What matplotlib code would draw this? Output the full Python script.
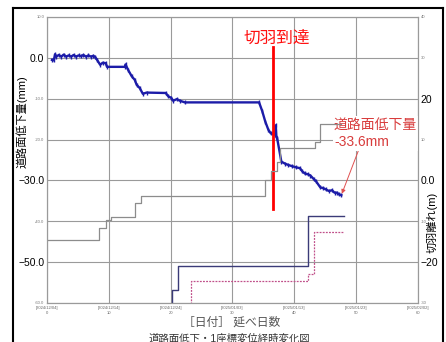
import matplotlib
matplotlib.use("Agg")
import matplotlib.pyplot as plt
from matplotlib.lines import Line2D

plt.rcParams["font.family"] = ["Liberation Sans", "Noto Sans CJK JP", "DejaVu Sans"]

# road surface settlement (mm) against elapsed days
settle_days = [0.8, 1.1, 1.3, 1.5, 1.9, 2.3, 2.7, 3.1, 3.5, 3.9, 4.3, 4.7, 5.1, 5.5, 5.9,
               6.3, 6.7, 7.1, 7.5, 7.8, 8.1, 8.6, 9.0, 9.5, 9.7, 12.6, 12.7, 13.1, 13.7,
               14.2, 14.5, 15.0, 15.5, 16.1, 19.2, 19.6, 20.1, 20.4, 21.0, 21.5, 22.3,
               34.3, 34.8, 35.3, 35.8, 36.2, 36.6, 36.9, 37.0, 37.1, 37.2, 37.9, 38.5,
               39.0, 39.6, 40.3, 40.9, 41.3, 41.7, 42.2, 42.6, 43.1, 43.5, 44.2, 44.7,
               45.1, 45.6, 46.1, 46.5, 46.9, 47.2, 47.6]
settle_mm = [-0.5, -0.6, 0.9, 0.3, 0.7, 0.3, 0.8, 0.3, 0.6, 0.3, 0.7, 0.3, 0.6, 0.4, 0.7,
             0.3, 0.6, 0.3, 0.5, 0.2, -0.5, -1.7, -1.2, -1.3, -2.2, -2.2, -1.6, -2.9, -4.5,
             -5.4, -6.6, -7.4, -8.8, -8.5, -8.6, -9.4, -9.8, -10.5, -10.1, -10.5, -10.9,
             -10.9, -13.0, -15.6, -17.6, -18.5, -18.6, -18.8, -16.5, -19.3, -19.5, -25.4, -25.9,
             -26.2, -26.5, -26.8, -27.0, -27.8, -28.3, -28.5, -28.8, -29.6, -30.2, -31.7, -31.9,
             -32.2, -32.6, -32.4, -33.0, -33.0, -33.4, -33.6]

# distance from the tunnel face (m), right axis
face_days = [0.0, 8.4, 9.5, 10.4, 14.2, 15.2, 35.3, 36.2, 37.2, 37.7, 43.4, 44.2, 47.6]
face_m = [-14.6, -11.7, -9.8, -9.0, -5.6, -3.7, 0.2, 2.2, 4.4, 8.0, 9.5, 13.7, 13.7]

# other displacement records
navy_days = [20.2, 20.2, 21.2, 42.2, 48.1]
navy_mm = [-61.0, -56.8, -51.0, -38.8, -38.8]
pink_days = [23.3, 23.3, 42.2, 43.2, 48.1]
pink_mm = [-61.0, -54.6, -52.9, -42.7, -42.7]

face_arrival_day = 36.6
final_settlement = -33.6

x_ticks = [0, 10, 20, 30, 40, 50, 60]
x_dates = ["2024/12/04", "2024/12/14", "2024/12/24", "2025/01/03",
           "2025/01/13", "2025/01/23", "2025/02/02"]
left_ticks = [10, 0, -10, -20, -30, -40, -50, -60]
left_big = {0: "0.0", -30: "\u221230.0", -50: "\u221250.0"}
right_ticks = [40, 30, 20, 10, 0, -10, -20, -30]
right_big = {20: "20", 0: "0.0", -20: "\u221220"}

W, H = 446, 342
fig = plt.figure(figsize=(W / 100, H / 100), dpi=100)
ax = fig.add_axes([47 / W, 1 - 303 / H, 371 / W, 286 / H])
ax2 = ax.twinx()

ax.set_xlim(0, 60)
ax.set_ylim(-60, 10)
ax2.set_ylim(-30, 40)

ax.grid(True, color="#9a9a9a", lw=0.8)
ax.set_axisbelow(True)
for a in (ax, ax2):
    for s in a.spines.values():
        s.set_color("#9a9a9a")
        s.set_linewidth(0.8)

ax2.plot(face_days, face_m, drawstyle="steps-post", color="#8c8c8c", lw=0.9)
ax.plot(navy_days, navy_mm, drawstyle="steps-post", color="#3b3b78", lw=1.0)
ax.plot(pink_days, pink_mm, drawstyle="steps-post", color="#c0508a", lw=0.9, ls=(0, (1.5, 1)))
ax.plot(settle_days, settle_mm, color="#1c1ca8", lw=1.7, marker="|", ms=3.5, mew=1.0)

ax.set_xticks(x_ticks)
ax.set_xticklabels([f"[{d}]\n{t}" for d, t in zip(x_dates, x_ticks)],
                   fontsize=3, color="#666666", linespacing=1.4)

ax.set_yticks(left_ticks)
ax.set_yticklabels([left_big.get(v, f"{v:.1f}") for v in left_ticks])
for v, lab in zip(left_ticks, ax.get_yticklabels()):
    lab.set_fontsize(7.5 if v in left_big else 3)
    lab.set_color("black" if v in left_big else "#777777")

ax2.set_yticks(right_ticks)
ax2.set_yticklabels([right_big.get(v, str(v)) for v in right_ticks])
for v, lab in zip(right_ticks, ax2.get_yticklabels()):
    lab.set_fontsize(7.5 if v in right_big else 3)
    lab.set_color("black" if v in right_big else "#777777")

ax.tick_params(length=0, pad=2)
ax2.tick_params(length=0, pad=2)

# face arrival marker
ax.plot([face_arrival_day, face_arrival_day], [2.7, -37.0], color="#ff0000", lw=2.0)
ax.text(face_arrival_day + 0.5, 4.9, "切羽到達", color="#ff1010", fontsize=12,
        ha="center", va="center")

ax.annotate(f"道路面低下量\n{final_settlement}mm", xy=(47.6, final_settlement),
            xytext=(46.4, -18.5), fontsize=10, color="#d83c3c", ha="left", va="center",
            linespacing=1.35,
            bbox=dict(boxstyle="square,pad=0.1", fc="white", ec="none"),
            arrowprops=dict(arrowstyle="-|>", color="#e05050", lw=0.7,
                            mutation_scale=6, shrinkA=0, shrinkB=1,
                            relpos=(0.3, 0.0)))

fig.text(22 / W, 1 - 122 / H, "道路面低下量(mm)", rotation=90, fontsize=8,
         ha="center", va="center")
fig.text(432 / W, 1 - 222 / H, "切羽離れ(m)", rotation=90, fontsize=8,
         ha="center", va="center")
fig.text(232 / W, 1 - 323 / H, "［日付］ 延べ日数", fontsize=8.5, color="#555555",
         ha="center", va="center")
fig.text(229 / W, 1 - 339 / H, "道路面低下・1座標変位経時変化図", fontsize=7.5,
         color="#333333", ha="center", va="center")

# outer frame, open at the bottom
bx0, bx1, by = 13 / W, 443 / W, 1 - 8 / H
for xs, ys in [([bx0, bx1], [by, by]), ([bx0, bx0], [0, by]), ([bx1, bx1], [0, by])]:
    fig.add_artist(Line2D(xs, ys, color="black", lw=1.5))

fig.savefig("out.png", dpi=100)
